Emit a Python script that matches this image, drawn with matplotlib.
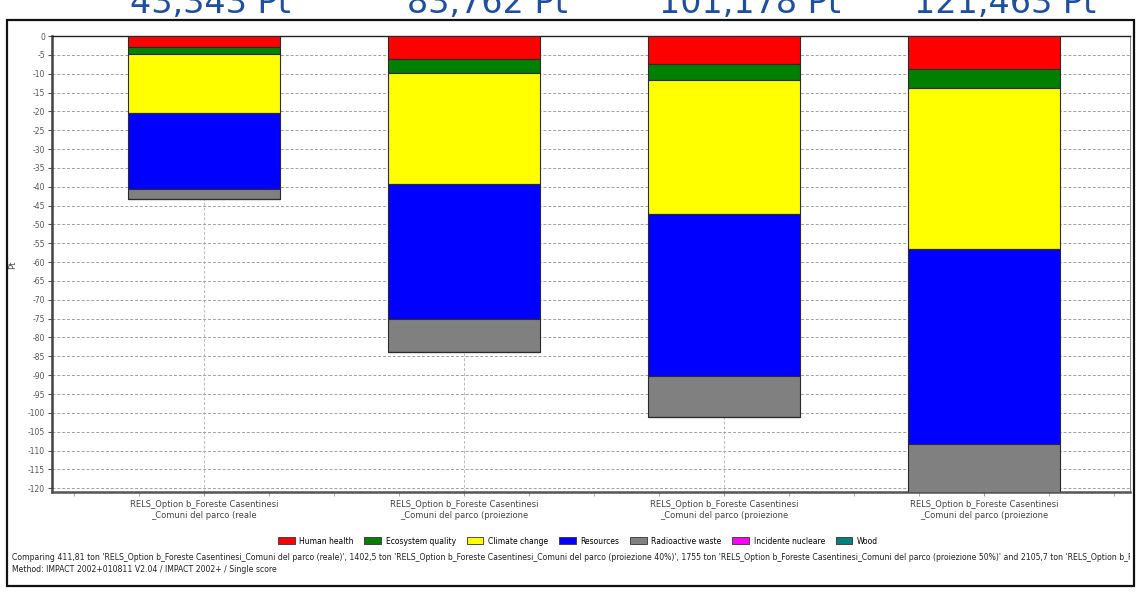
import numpy as np
import matplotlib
matplotlib.use("Agg")
import matplotlib.pyplot as plt
from matplotlib.patches import Rectangle, Patch
from matplotlib.ticker import MultipleLocator

plt.rcParams["font.family"] = ["DejaVu Sans"]
plt.rcParams["axes.unicode_minus"] = False

# Single score per scenario (Pt), one list per damage category
scenarios = ["RELS_Option b_Foreste Casentinesi\n_Comuni del parco (reale",
             "RELS_Option b_Foreste Casentinesi\n_Comuni del parco (proiezione",
             "RELS_Option b_Foreste Casentinesi\n_Comuni del parco (proiezione",
             "RELS_Option b_Foreste Casentinesi\n_Comuni del parco (proiezione"]
categories = ["Human health", "Ecosystem quality", "Climate change", "Resources",
              "Radioactive waste", "Incidente nucleare", "Wood"]
colors = ["#ff0000", "#008000", "#ffff00", "#0000ff", "#808080", "#ff00ff", "#008080"]

human_health = [-3.0, -6.2, -7.35, -8.85]
ecosystem_quality = [-1.8, -3.5, -4.25, -4.85]
climate_change = [-15.7, -29.6, -35.7, -42.8]
resources = [-20.1, -35.8, -42.9, -51.7]
radioactive_waste = [-2.743, -8.662, -10.978, -13.263]
incidente_nucleare = [0.0, 0.0, 0.0, 0.0]
wood = [0.0, 0.0, 0.0, 0.0]

series = [human_health, ecosystem_quality, climate_change, resources,
          radioactive_waste, incidente_nucleare, wood]

footer1 = ("Comparing 411,81 ton 'RELS_Option b_Foreste Casentinesi_Comuni del parco (reale)', "
           "1402,5 ton 'RELS_Option b_Foreste Casentinesi_Comuni del parco (proiezione 40%)', "
           "1755 ton 'RELS_Option b_Foreste Casentinesi_Comuni del parco (proiezione 50%)' "
           "and 2105,7 ton 'RELS_Option b_Foreste Casentinesi_Comuni del parco (proiezione 60%)'")
footer2 = "Method: IMPACT 2002+010811 V2.04 / IMPACT 2002+ / Single score"

W, H = 1139, 594
fig = plt.figure(figsize=(W / 100, H / 100), dpi=100)
fig.patch.set_facecolor("white")

ax = fig.add_axes([52 / W, 1 - 492 / H, (1130 - 52) / W, (492 - 36) / H])
x = np.arange(len(scenarios))
bottom = np.zeros(len(scenarios))
for vals, col in zip(series, colors):
    v = np.array(vals)
    ax.bar(x, v, width=0.585, bottom=bottom, color=col, edgecolor="#2a2a2a",
           linewidth=0.8, zorder=3)
    bottom = bottom + v

ax.set_xlim(-0.585, 3.56)
ax.set_ylim(-121, 0)
ax.set_yticks(np.arange(-120, 1, 5))
ax.set_yticklabels([str(int(t)) for t in np.arange(-120, 1, 5)], fontsize=5.5, color="#555555")
ax.set_xticks(x)
ax.set_xticklabels(scenarios, fontsize=6, color="#444444", linespacing=1.25)
ax.xaxis.set_minor_locator(MultipleLocator(0.25))
ax.tick_params(axis="x", which="major", length=3, color="#999999", pad=3)
ax.tick_params(axis="x", which="minor", length=3, color="#999999")
ax.tick_params(axis="y", length=3, color="#555555", pad=2)
ax.grid(axis="y", linestyle=(0, (3, 2)), color="#a0a0a0", linewidth=0.7, zorder=0)
ax.grid(axis="x", which="major", linestyle=(0, (3, 2)), color="#bbbbbb", linewidth=0.7, zorder=0)

ax.spines["left"].set_linewidth(1.8)
ax.spines["left"].set_color("#444444")
ax.spines["bottom"].set_linewidth(1.8)
ax.spines["bottom"].set_color("#555555")
ax.spines["top"].set_linewidth(1.0)
ax.spines["top"].set_color("#222222")
ax.spines["right"].set_linewidth(0.8)
ax.spines["right"].set_color("#888888")

fig.text(13 / W, 1 - 265 / H, "Pt", rotation=90, fontsize=6, color="#444444",
         ha="center", va="center")

# totals above each bar, partly cut by the top edge
centers = [210, 487, 750, 1005]
for cx, tot in zip(centers, bottom):
    label = f"{-tot:.3f}".replace(".", ",") + " Pt"
    fig.text(cx / W, 1 - 13 / H, label, fontsize=24, color="#1f4f9f",
             ha="center", va="baseline")

handles = [Patch(facecolor=c, edgecolor="#333333", linewidth=0.6) for c in colors]
fig.legend(handles, categories, loc="center", bbox_to_anchor=(578 / W, 1 - 541 / H),
           ncol=7, frameon=False, fontsize=5.5, handlelength=2.2, handleheight=1.0,
           columnspacing=1.4, handletextpad=0.6)

clip = Rectangle((0, 0), 1130 / W, 1, transform=fig.transFigure, visible=False)
fig.add_artist(clip)
t1 = fig.text(12 / W, 1 - 558 / H, footer1, fontsize=5.6, color="#222222", va="center")
t1.set_clip_path(clip)
fig.text(12 / W, 1 - 570 / H, footer2, fontsize=5.6, color="#222222", va="center")

# outer frame
fig.add_artist(Rectangle((7 / W, 1 - 586 / H), (1134 - 7) / W, (586 - 20) / H,
                         transform=fig.transFigure, fill=False, edgecolor="#111111",
                         linewidth=1.6))

fig.savefig("out.png", dpi=100)
